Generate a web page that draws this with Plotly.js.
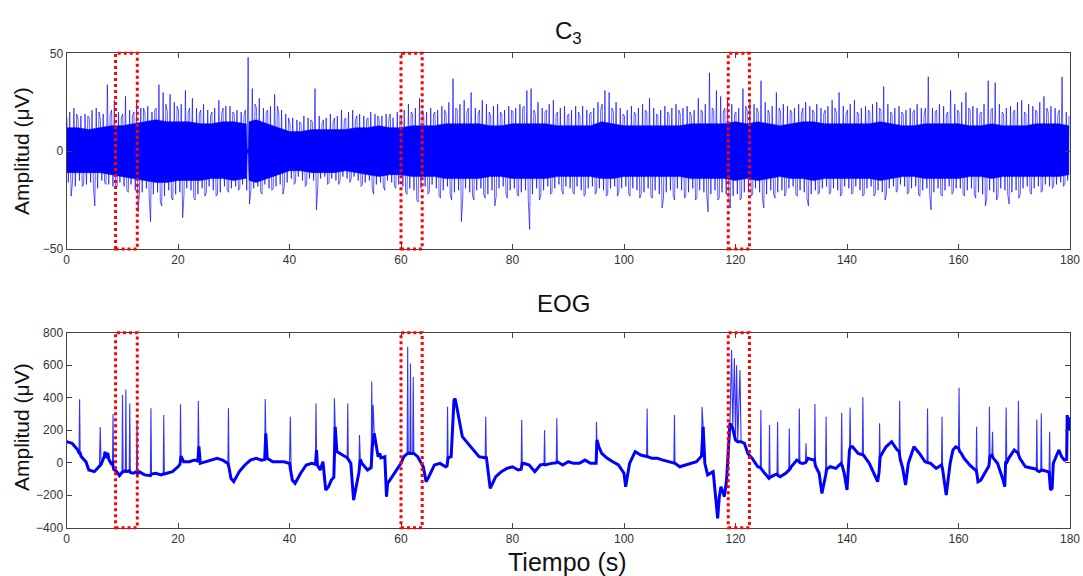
<!DOCTYPE html>
<html>
<head>
<meta charset="utf-8">
<script src="https://cdn.plot.ly/plotly-3.0.1.min.js"></script>
<style>html,body{margin:0;padding:0;background:#fff;}#chart{width:1083px;height:576px;}</style>
</head>
<body>
<div id="chart"></div>
<script>
// ---------- C3 (EEG): dense core band, second-tier fringe and outer peaks (one of each per second) ----------
const coreT = [0,2,4,6,8,10,12,14,16,18,20,22,24,26,28,30,32,32.25,32.4,32.6,32.75,34,36,38,40,42,44,46,48,50,52,54,56,58,60,62,64,66,68,70,72,74,76,78,80,82,84,86,88,90,92,94,96,98,100,102,104,106,108,110,112,114,116,118,120,122,124,126,128,130,132,134,136,138,140,142,144,146,148,150,152,154,156,158,160,162,164,166,168,170,172,174,176,178,179.8];
const coreUp = [12,12,11,12,13,13,14,15,16,15,15,15,14,14,15,15,14,14,1,1,15,16,14,12,10,10,11,11,11,11,12,12,13,12,12,13,13,13,14,14,14,14,13,13,14,14,14,14,13,13,13,13,15,14,13,13,13,13,13,13,14,14,14,14,15,14,15,14,13,14,15,15,14,14,14,14,14,15,14,13,13,14,14,14,14,13,13,14,13,13,13,14,14,14,13];
const coreLow = [-11,-11,-11,-11,-12,-13,-14,-15,-16,-16,-15,-15,-15,-14,-14,-15,-14,-14,-1,-1,-15,-16,-14,-12,-10,-10,-11,-11,-11,-10,-11,-12,-13,-12,-12,-13,-13,-13,-14,-14,-14,-14,-13,-13,-14,-14,-14,-14,-13,-13,-13,-13,-14,-14,-13,-13,-13,-13,-13,-13,-14,-14,-14,-14,-15,-14,-15,-14,-13,-14,-14,-15,-14,-14,-14,-14,-14,-15,-14,-13,-13,-14,-14,-14,-14,-13,-13,-14,-13,-13,-13,-13,-13,-13,-12];
const fringeUp = [17,19,16,18,17,20,16,18,21,17, 19,18,20,22,19,21,22,24,20,23, 21,20,22,19,21,18,20,19,22,20, 19,18,21,24,22,20,21,23,19,17,
14,15,14,16,15,14,16,15,17,16, 17,16,18,16,17,18,16,17,19,17, 18,20,19,21,18,19,20,21,19,22, 21,20,22,19,21,20,18,20,19,21,
20,22,23,21,19,20,21,19,20,18, 19,20,18,19,20,21,24,22,20,19, 18,20,19,21,20,19,18,20,19,21, 19,20,18,21,20,22,21,20,22,19,
20,23,21,22,20,21,19,22,20,21, 20,19,22,21,20,19,21,22,20,19, 21,20,19,21,20,22,21,20,19,20, 19,20,21,19,22,20,21,19,20,21,
20,22,21,19,20,21,22,20,19,20, 21,20,19,21,20,22,20,19,21,18];
const fringeLow = [-16,-18,-15,-17,-16,-19,-15,-17,-18,-16, -18,-17,-20,-21,-19,-22,-21,-23,-20,-22, -21,-19,-20,-22,-19,-18,-20,-21,-18,-19, -18,-17,-20,-19,-18,-17,-19,-18,-17,-16,
-14,-13,-15,-14,-15,-14,-13,-14,-15,-13, -14,-13,-15,-16,-15,-17,-16,-15,-16,-17, -18,-19,-20,-19,-18,-17,-19,-20,-18,-21, -20,-19,-21,-20,-19,-22,-20,-19,-18,-20,
-19,-21,-20,-22,-19,-20,-18,-19,-17,-18, -19,-18,-20,-19,-18,-19,-20,-19,-18,-19, -18,-19,-20,-21,-19,-20,-22,-21,-20,-19, -20,-21,-19,-20,-21,-22,-20,-21,-22,-23,
-22,-21,-20,-19,-21,-22,-20,-21,-20,-19, -18,-20,-21,-22,-20,-19,-18,-19,-20,-18, -19,-18,-20,-19,-18,-20,-21,-19,-18,-17, -18,-19,-18,-20,-19,-21,-19,-20,-18,-19,
-19,-20,-19,-21,-22,-20,-21,-19,-20,-21, -20,-19,-18,-19,-18,-17,-18,-17,-16,-15];
const peakUp = [20,22,18,19,21,22,19,34,26,20,28,21,25,22,23,20,34,30,29,25,24,31,27,22,24,21,22,26,23,23,21,20,48,32,27,22,23,29,21,19,17,16,18,17,32,18,17,19,18,21,20,21,19,
18,20,19,18,19,17,20,21,24,22,27,20,22,21,23,25,37,24,26,30,22,26,24,23,24,21,23,22,24,31,32,25,22,24,26,22,23,21,23,23,21,22,25,31,30,25,22,21,23,22,24,27,22,21,23,22,24,22,23,21,27,24,40,31,28,26,24,22,32,25,24,36,25,23,30,24,23,22,24,25,23,24,22,23,26,30,23,24,26,22,23,24,25,33,24,22,23,21,22,24,22,38,22,24,23,31,24,25,30,23,22,24,36,35,24,22,23,25,26,24,23,25,28,23,22,38,20];
const peakLow = [-23,-16,-18,-17,-18,-28,-16,-17,-19,-18,-20,-21,-31,-22,-23,-36,-26,-28,-24,-25,-34,-22,-24,-25,-23,-21,-23,-22,-20,-21,-20,-19,-27,-20,-21,-22,-20,-19,-22,-18,-17,-16,-18,-17,-30,-18,-17,-16,-17,-15,-16,-14,-18,
-17,-19,-22,-18,-20,-18,-19,-21,-22,-25,-26,-22,-21,-23,-24,-22,-25,-36,-24,-23,-25,-22,-24,-28,-23,-22,-24,-22,-23,-25,-40,-25,-23,-22,-21,-20,-22,-21,-22,-23,-22,-22,-21,-23,-22,-23,-21,-22,-23,-24,-22,-23,-24,-29,-24,-23,-25,-24,-23,-25,-24,-22,-31,-25,-24,-26,-29,-25,-24,-23,-22,-24,-29,-22,-24,-23,-21,-22,-23,-24,-28,-22,-21,-22,-21,-23,-22,-22,-21,-23,-22,-23,-22,-25,-22,-21,-20,-22,-21,-22,-23,-22,-30,-22,-23,-22,-21,-22,-23,-22,-24,-28,-24,-25,-23,-22,-27,-24,-22,-21,-22,-21,-20,-19,-18,-18,-17];

// ---------- EOG ----------
const eogT = [0,1,2,2.25,2.35,2.45,2.6,3.5,4,5,5.9,6.05,6.2,6.8,6.9,7.0,7.4,7.6,8,8.25,8.35,8.45,9,9.5,9.95,10.05,10.15,10.55,10.65,10.75,11.25,11.35,11.45,12,12.55,12.65,12.75,13,14,15.05,15.15,15.25,16,17,17.35,17.45,17.55,18,19,20,20.35,20.45,20.55,21,22,23,23.55,23.65,23.75,24,25,26,27,28,28.95,29.05,29.15,29.5,30,31,32,33,34,35,35.55,35.65,35.75,36,37,38,39,40,40.15,40.3,40.5,41,42,43,44,44.65,44.75,44.85,45,45.5,46,46.5,47,47.5,47.95,48.05,48.2,48.5,49,50,50.35,50.45,50.55,51,51.5,52,52.45,52.55,52.7,53,54,54.65,54.75,54.85,55.0,55.2,55.9,56.2,56.4,57.1,57.4,57.6,58,59,60,60.5,61.1,61.2,61.3,61.6,61.7,61.8,62.1,62.2,62.3,63,64,64.5,65,66,67,68,68.25,68.35,68.45,69,69.5,69.7,70,71,72,73,74,75.1,75.2,75.3,76,77,78,79,80,81,81.55,81.65,81.75,82,83,84,85,85.65,85.75,85.85,87,87.85,87.95,88.05,89,90,91,92,93,94,95,95.05,95.15,95.5,96,97,98,99,100,100.3,101,102,103,104.05,104.15,104.25,105,106,107,108,108.95,109.05,109.15,110,111,112,113,113.9,114,114.2,114.5,115,116,116.5,116.8,117.1,117.4,117.7,118,118.4,118.8,119,119.3,119.5,119.8,120.0,120.2,120.4,120.8,121.0,121.6,122.2,123,124,124.45,124.55,124.65,125,126,126.1,126.2,127,127.45,127.55,127.65,128,129,129.55,129.65,129.75,130,131,131.35,131.45,131.55,132,132.55,132.65,132.75,133,134,134.15,134.25,134.35,135,135.5,136,136.15,136.25,136.35,137,138,138.95,139.05,139.15,139.5,140,140.45,140.55,140.65,141,142,142.75,142.85,142.95,144,145,145.5,145.75,145.85,145.95,147,148,149,149.35,149.45,149.55,150,150.5,151,152,153,154,154.35,154.45,154.55,155,156,156.95,157.05,157.15,157.5,157.8,158.5,159,159.5,160.0,160.1,160.2,160.5,161,162,163,163.15,163.25,163.35,163.5,164,165,165.45,165.55,165.65,166,166.1,166.2,167,168,168.3,168.45,168.55,168.65,169,170,170.65,170.75,170.85,171,172,173,173.95,174.05,174.15,174.5,174.75,174.85,174.95,176,176.25,176.35,176.5,176.8,177,178,178.5,179,179.4,179.5,179.7,180];
const eogV = [130,120,80,60,390,60,40,5,-45,-55,-25,220,-10,40,68,30,60,20,-5,0,300,-40,-55,-80,-60,416,-55,-50,450,-55,-50,365,-60,-65,-55,260,-70,-55,-75,-80,335,-70,-65,-75,-70,293,-70,-65,-55,-25,-10,360,40,6,6,16,10,380,100,-4,6,16,27,16,-4,335,-30,-96,-117,-55,-14,16,27,16,20,392,180,27,6,6,6,-4,283,-60,-107,-127,-65,-14,-4,-10,365,78,-14,-45,6,-168,-148,-107,-90,396,220,68,57,37,30,365,20,-4,-230,-148,-60,170,20,-4,-45,-30,500,100,355,180,37,57,30,37,-209,-127,-107,-55,-4,37,57,713,60,57,610,57,57,528,57,37,-25,-117,-86,-14,-4,-25,-20,344,30,37,385,395,344,160,119,78,37,30,283,37,-158,-86,-55,-35,-25,-45,-40,262,-4,-4,-14,-55,-14,-10,200,-14,-4,0,273,6,-14,6,-4,-4,16,-4,-4,252,140,98,57,27,6,-14,-65,-148,-4,68,47,40,334,37,27,27,16,6,0,293,-4,-25,-14,-4,6,40,344,221,-4,-75,-55,-250,-342,-209,-148,-178,-209,-107,119,242,693,211,642,139,600,129,570,129,119,57,27,-25,-30,324,-40,-55,-96,232,-90,-75,-70,252,-80,-86,-65,-50,211,-40,-25,16,10,334,0,-4,0,119,10,27,16,20,361,-20,-65,-189,-117,-80,283,-40,-25,-35,-4,308,-20,-65,-168,80,340,98,98,57,50,402,47,-4,-86,-117,-60,242,37,98,129,78,70,379,20,-35,-137,-4,98,57,6,0,334,0,-4,-35,-14,283,-40,-127,-199,-4,78,98,90,461,70,57,27,-14,-45,-40,221,-80,-117,-107,-45,-20,344,40,47,191,30,-4,-107,-148,0,340,0,27,78,60,379,40,27,-25,-35,-40,266,-50,-55,-50,303,-45,-55,-60,191,-168,-158,-4,78,37,16,20,293,200,280];

// ---------- marked windows (s) ----------
const boxStart = [8.8, 60.0, 118.7];
const boxEnd   = [12.7, 63.8, 122.5];

// ---------- axis ticks ----------
const xTicks = [0,20,40,60,80,100,120,140,160,180];
const y1Ticks = [-50,0,50];
const y2Ticks = [-400,-200,0,200,400,600,800];

// EEG band polygon
const bandX = coreT.concat(coreT.slice().reverse());
const bandY = coreUp.concat(coreLow.slice().reverse());
// EEG zigzag: four read extremes per second, order alternating every second
const zzX = [], zzY = [];
for (let i = 0; i < peakUp.length; i++) {
  const seq = (i % 2 === 0)
    ? [fringeUp[i], fringeLow[i], peakUp[i], peakLow[i]]
    : [peakLow[i], peakUp[i], fringeLow[i], fringeUp[i]];
  seq.forEach((v, k) => { zzX.push(i + 0.08 + k * 0.25); zzY.push(v); });
}
// EOG slow baseline: the same samples without the isolated spike tips
const baseX = [], baseY = [];
for (let j = 0; j < eogT.length; j++) {
  const prev = j > 0 ? eogV[j - 1] : -1e9, next = j < eogV.length - 1 ? eogV[j + 1] : -1e9;
  if (!(eogV[j] > prev + 100 && eogV[j] > next + 100)) { baseX.push(eogT[j]); baseY.push(eogV[j]); }
}

const BLUE = '#0000ff';
const traces = [
  {x: zzX, y: zzY, xaxis: 'x', yaxis: 'y', type: 'scatter', mode: 'lines',
   line: {color: BLUE, width: 0.8}, opacity: 0.8, showlegend: false},
  {x: bandX, y: bandY, xaxis: 'x', yaxis: 'y', type: 'scatter', mode: 'lines', fill: 'toself',
   fillcolor: BLUE, line: {color: BLUE, width: 0.5}, showlegend: false},
  {x: baseX, y: baseY, xaxis: 'x2', yaxis: 'y2', type: 'scatter', mode: 'lines',
   line: {color: BLUE, width: 3}, showlegend: false},
  {x: eogT, y: eogV, xaxis: 'x2', yaxis: 'y2', type: 'scatter', mode: 'lines',
   line: {color: BLUE, width: 1.1}, opacity: 0.8, showlegend: false}
];

const W = 1083, H = 576;
const xDom = [66.5 / W, 1070 / W];
const tickFont = {family: 'Liberation Sans, Arial, sans-serif', size: 12, color: '#333'};
const axBase = {showline: true, linecolor: '#444', linewidth: 1, mirror: 'ticks', ticks: 'inside',
  ticklen: 5, tickcolor: '#444', showgrid: false, zeroline: false, tickfont: tickFont, automargin: false};

const shapes = [];
for (let i = 0; i < boxStart.length; i++) {
  ['y', 'y2'].forEach((ya, k) => {
    shapes.push({type: 'rect', xref: k === 0 ? 'x' : 'x2', yref: ya + ' domain',
      x0: boxStart[i], x1: boxEnd[i], y0: 0, y1: 1,
      line: {color: '#ff0000', width: 3, dash: '3px,3px'}, layer: 'above'});
  });
}

const titleFont = {family: 'Liberation Sans, Arial, sans-serif', color: '#111'};
const layout = {
  width: W, height: H,
  margin: {l: 0, r: 0, t: 0, b: 0},
  paper_bgcolor: '#fff', plot_bgcolor: '#fff',
  showlegend: false,
  xaxis: Object.assign({}, axBase, {domain: xDom, range: [0, 180], tickvals: xTicks, anchor: 'y'}),
  yaxis: Object.assign({}, axBase, {domain: [1 - 249 / H, 1 - 53.3 / H], range: [-50, 50], tickvals: y1Ticks, anchor: 'x'}),
  xaxis2: Object.assign({}, axBase, {domain: xDom, range: [0, 180], tickvals: xTicks, anchor: 'y2'}),
  yaxis2: Object.assign({}, axBase, {domain: [1 - 527.7 / H, 1 - 332.7 / H], range: [-400, 800], tickvals: y2Ticks, anchor: 'x2'}),
  shapes: shapes,
  annotations: [
    {text: 'C<sub>3</sub>', xref: 'paper', yref: 'paper', x: 568 / W, y: 1 - 32 / H, showarrow: false,
     font: Object.assign({size: 24}, titleFont), xanchor: 'center', yanchor: 'middle'},
    {text: 'EOG', xref: 'paper', yref: 'paper', x: 563 / W, y: 1 - 303 / H, showarrow: false,
     font: Object.assign({size: 24}, titleFont), xanchor: 'center', yanchor: 'middle'},
    {text: 'Tiempo (s)', xref: 'paper', yref: 'paper', x: 567 / W, y: 1 - 562 / H, showarrow: false,
     font: Object.assign({size: 25}, titleFont), xanchor: 'center', yanchor: 'middle'},
    {text: 'Amplitud (μV)', xref: 'paper', yref: 'paper', x: 21 / W, y: 1 - 151 / H, showarrow: false,
     textangle: -90, font: Object.assign({size: 21}, titleFont), xanchor: 'center', yanchor: 'middle'},
    {text: 'Amplitud (μV)', xref: 'paper', yref: 'paper', x: 21 / W, y: 1 - 427 / H, showarrow: false,
     textangle: -90, font: Object.assign({size: 21}, titleFont), xanchor: 'center', yanchor: 'middle'}
  ]
};

Plotly.newPlot('chart', traces, layout, {staticPlot: true, displayModeBar: false});
</script>
</body>
</html>
